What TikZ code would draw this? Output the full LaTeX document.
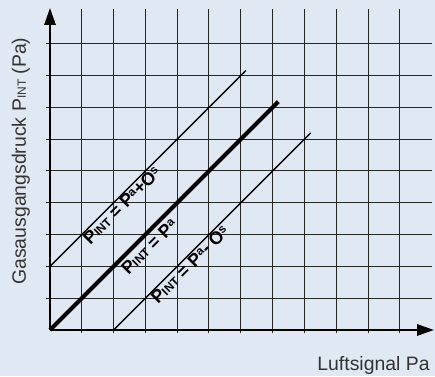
\documentclass[tikz,border=0pt]{standalone}
\usepackage{fontspec}
\setmainfont{Liberation Sans}
\usepackage{tikz}
\usetikzlibrary{arrows.meta}
\definecolor{PanelBlue}{RGB}{224,232,244}
\definecolor{LabelGray}{HTML}{333333}
\newcommand{\lowcap}[1]{{\fontsize{12}{12}\selectfont #1}}
\newcommand{\upidx}[1]{\raisebox{4.5pt}{\lowcap{#1}}}

\begin{document}
\begin{tikzpicture}[x=31.8bp, y=31.8bp,
    gridline/.style={black!85, line width=1bp},
    curve/.style={line width=1.3bp},
    eqlabel/.style={sloped, below, inner sep=0.5bp, font=\fontsize{18}{18}\selectfont\bfseries}]
  \fill[PanelBlue] (-1.572,-1.447) rectangle (12.107,10.377);
  \useasboundingbox (-1.572,-1.447) rectangle (12.107,10.377);
  % grid with ticks
  \foreach \i in {1,...,11}
    \draw[gridline] (\i,-0.1) -- (\i,10.09);
  \foreach \j in {1,...,9}
    \draw[gridline] (-0.13,\j) -- (12,\j);
  % axes
  \coordinate (O) at (0,0);
  \draw[line width=2.6bp, -{Triangle[length=17bp, width=11bp]}] (O) -- (12.08,0);
  \draw[line width=2.6bp, -{Triangle[length=17bp, width=11bp]}] (O) -- (0,10.13);
  % characteristic lines
  \draw[curve] (0,2) -- (6.16,8.16)
    node[eqlabel, pos=0.34] (plus) {P\lowcap{INT} = P\upidx{a}+O\upidx{s}};
  \draw[line width=4bp] (O) -- (7.18,7.18)
    node[eqlabel, pos=0.40, inner sep=3bp] (mid) {P\lowcap{INT} = P\upidx{a}};
  \draw[curve] (2,0) -- (8.2,6.2)
    node[eqlabel, pos=0.36] (minus) {P\lowcap{INT} = P\upidx{a}- O\upidx{s}};
  % axis labels
  \node[rotate=90, anchor=base, LabelGray, font=\fontsize{19.5}{19.5}\selectfont] (ylab) at (-0.755,5.31) {Gasausgangsdruck P\lowcap{INT} (Pa)};
  \node[anchor=base east, LabelGray, font=\fontsize{19.5}{19.5}\selectfont] (xlab) at (12.05,-1.26) {Luftsignal Pa};
\end{tikzpicture}
\end{document}
